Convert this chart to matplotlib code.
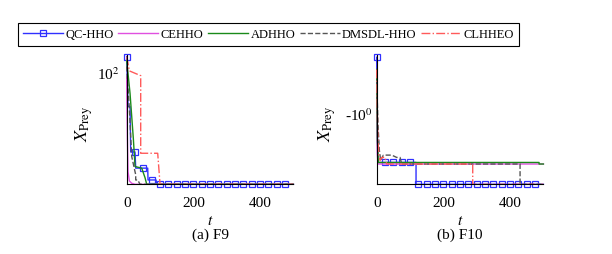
import matplotlib
matplotlib.use("Agg")
import matplotlib.pyplot as plt

plt.rcParams['font.family'] = ['Liberation Serif', 'DejaVu Serif']
plt.rcParams['mathtext.fontset'] = 'stix'

# ---- data ----
labels = ["QC-HHO", "CEHHO", "ADHHO", "DMSDL-HHO", "CLHHEO"]
colors = ["#3030ff", "#e050e0", "#1a8a1a", "#555555", "#ff5a5a"]
styles = ["-", "-", "-", "--", "-."]

# F9 (log y)
f9_qc_t = [0, 4, 10, 12, 25, 27, 63, 64, 88, 90, 500]
f9_qc_v = [128, 62, 62, 32, 32, 25.3, 25.3, 21.3, 21.3, 20, 20]
f9_qc_mt = [0, 25, 50, 75, 100, 125, 150, 175, 200, 225, 250, 275, 300, 325, 350, 375, 400, 425, 450, 475]
f9_qc_mv = [128, 32, 25.3, 21.3, 20, 20, 20, 20, 20, 20, 20, 20, 20, 20, 20, 20, 20, 20, 20, 20]
f9_ce_t = [0, 2, 4, 8, 15, 25, 500]
f9_ce_v = [95, 40, 24, 21, 20.3, 20, 20]
f9_ad_t = [0, 10, 20, 25, 45, 55, 60, 500]
f9_ad_v = [121, 75, 38.6, 25.9, 25.3, 22, 20, 20]
f9_dm_t = [0, 8, 15, 25, 27, 27, 33, 40, 500]
f9_dm_v = [111, 60, 30, 24, 23, 21.3, 21.3, 20, 20]
f9_cl_t = [0, 8, 42, 42, 93, 100, 500]
f9_cl_v = [128, 104, 97, 31.4, 31.4, 20, 20]

# F10 (symlog y, negative values)
f10_qc_t = [0, 3, 118, 118, 500]
f10_qc_v = [-0.49, -3.03, -3.03, -5, -5]
f10_qc_mt = [0, 25, 50, 75, 100, 125, 150, 175, 200, 225, 250, 275, 300, 325, 350, 375, 400, 425, 450, 475]
f10_qc_mv = [-0.49, -3.03, -3.03, -3.03, -3.03, -5, -5, -5, -5, -5, -5, -5, -5, -5, -5, -5, -5, -5, -5, -5]
f10_ce_t = [0, 2, 4, 500]
f10_ce_v = [-0.8, -2.5, -3.14, -3.14]
f10_ad_t = [0, 2, 5, 487, 487, 500]
f10_ad_v = [-0.6, -1.8, -3.03, -3.03, -3.14, -3.14]
f10_dm_t = [0, 4, 8, 12, 20, 45, 60, 70, 75, 430, 430, 500]
f10_dm_v = [-0.7, -1.3, -2.3, -2.9, -2.56, -2.56, -2.7, -2.7, -3.14, -3.14, -5, -5]
f10_cl_t = [0, 3, 6, 10, 15, 25, 30, 288, 288, 500]
f10_cl_v = [-0.6, -1.5, -2.5, -2.9, -2.7, -2.7, -3.14, -3.14, -5, -5]

fig = plt.figure(figsize=(6.12, 2.54), dpi=100)
W, H = 612, 254
ax1 = fig.add_axes([126.7 / W, 1 - 184.3 / H, 166.7 / W, 129.3 / H])
ax2 = fig.add_axes([376.7 / W, 1 - 184.3 / H, 166.7 / W, 129.3 / H])


def draw(ax, series, mt, mv):
    handles = []
    for i, (t, v) in enumerate(series):
        ln, = ax.plot(t, v, color=colors[i], ls=styles[i], lw=1.0, clip_on=False)
        if i == 0:
            mk, = ax.plot(mt, mv, ls="none", marker="s", ms=4, mfc="none",
                          mec=colors[0], mew=0.9, clip_on=False)
            handles.append((ln, mk))
        else:
            handles.append(ln)
    return handles


handles = draw(ax1, [(f9_qc_t, f9_qc_v), (f9_ce_t, f9_ce_v), (f9_ad_t, f9_ad_v),
                     (f9_dm_t, f9_dm_v), (f9_cl_t, f9_cl_v)], f9_qc_mt, f9_qc_mv)
draw(ax2, [(f10_qc_t, f10_qc_v), (f10_ce_t, f10_ce_v), (f10_ad_t, f10_ad_v),
           (f10_dm_t, f10_dm_v), (f10_cl_t, f10_cl_v)], f10_qc_mt, f10_qc_mv)

ax1.set_yscale("log")
ax1.set_ylim(20, 131)
ax1.set_yticks([100])
ax1.set_yticklabels([r"10$^2$"])
ax1.minorticks_off()

ax2.set_yscale("symlog", linthresh=1)
ax2.set_ylim(-5, -0.47)
ax2.set_yticks([-1])
ax2.set_yticklabels([r"-10$^0$"])
ax2.minorticks_off()

for ax, cap, ylx in [(ax1, "(a) F9", -0.19), (ax2, "(b) F10", -0.232)]:
    ax.set_xlim(0, 500)
    ax.set_xticks([0, 200, 400])
    for s in ["top", "right"]:
        ax.spines[s].set_visible(False)
    ax.tick_params(axis="both", length=0, labelsize=11)
    ax.tick_params(axis="x", pad=9)
    ax.set_ylabel(r"$X_{\mathrm{Prey}}$", fontsize=13)
    ax.yaxis.set_label_coords(ylx, 0.47)
    ax.text(0.5, -0.29, r"$t$", transform=ax.transAxes, ha="center", va="center", fontsize=11)
    ax.text(0.5, -0.395, cap, transform=ax.transAxes, ha="center", va="center", fontsize=11)
ax1.tick_params(axis="y", pad=5)
ax2.tick_params(axis="y", pad=3)

leg = fig.legend(handles, labels, loc="center", bbox_to_anchor=(268.5 / W, 1 - 34.5 / H),
                 ncol=5, fontsize=9, handlelength=3.2, handletextpad=0.2,
                 columnspacing=0.35, borderpad=0.45, fancybox=False, framealpha=1,
                 edgecolor="black")
leg.get_frame().set_linewidth(0.8)

fig.savefig("out.png", dpi=100)
